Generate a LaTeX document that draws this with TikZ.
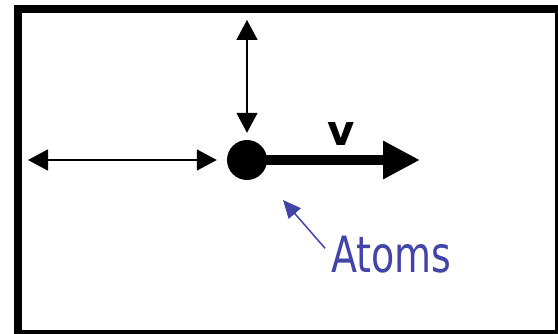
\documentclass[tikz,border=0pt]{standalone}
\usepackage{fontspec}
\setmainfont{DejaVu Sans}
\usetikzlibrary{arrows.meta}
\definecolor{atomblue}{RGB}{66,68,168}

\tikzset{
  ball/.style={circle, fill=black, minimum size=40pt, inner sep=0pt},
  slidearrow/.style={line width=1.5pt, {Triangle[length=20pt,width=21pt]}-{Triangle[length=20pt,width=21pt]}},
  varrow/.style={line width=10pt, -{Triangle[length=37pt,width=36pt]}},
  pointer/.style={atomblue, line width=1.5pt, -{Triangle[length=18pt,width=16pt]}}
}

\begin{document}
\begin{tikzpicture}[x=1pt,y=-1pt]
\useasboundingbox (0,0) rectangle (558,334);
\clip (0,0) rectangle (558,334);
\fill[white] (0,0) rectangle (558,334);
\draw[line width=8pt] (18,9) rectangle (559,334);
% the atom and its velocity
\node[ball] (atom) at (247,160) {};
\coordinate (vtip) at (420,160);
\draw[varrow] (atom.center) -- (vtip);
\node (vlabel) at (341,134) {\fontsize{42}{42}\selectfont\bfseries v};
% free motion in the box
\coordinate (topend) at (247,20);
\coordinate (leftend) at (28,160);
\draw[slidearrow, shorten >=7pt] (topend) -- (atom.north);
\draw[slidearrow, shorten >=10pt] (leftend) -- (atom.west);
% label
\coordinate (atip) at (283,200);
\node[anchor=base west, inner sep=0pt, text=atomblue] (atoms) at (331,273)
  {\fontsize{50}{50}\selectfont\scalebox{0.76}[1]{Atoms}};
\draw[pointer, shorten <=9pt] (atoms.west) -- (atip);
\end{tikzpicture}
\end{document}
